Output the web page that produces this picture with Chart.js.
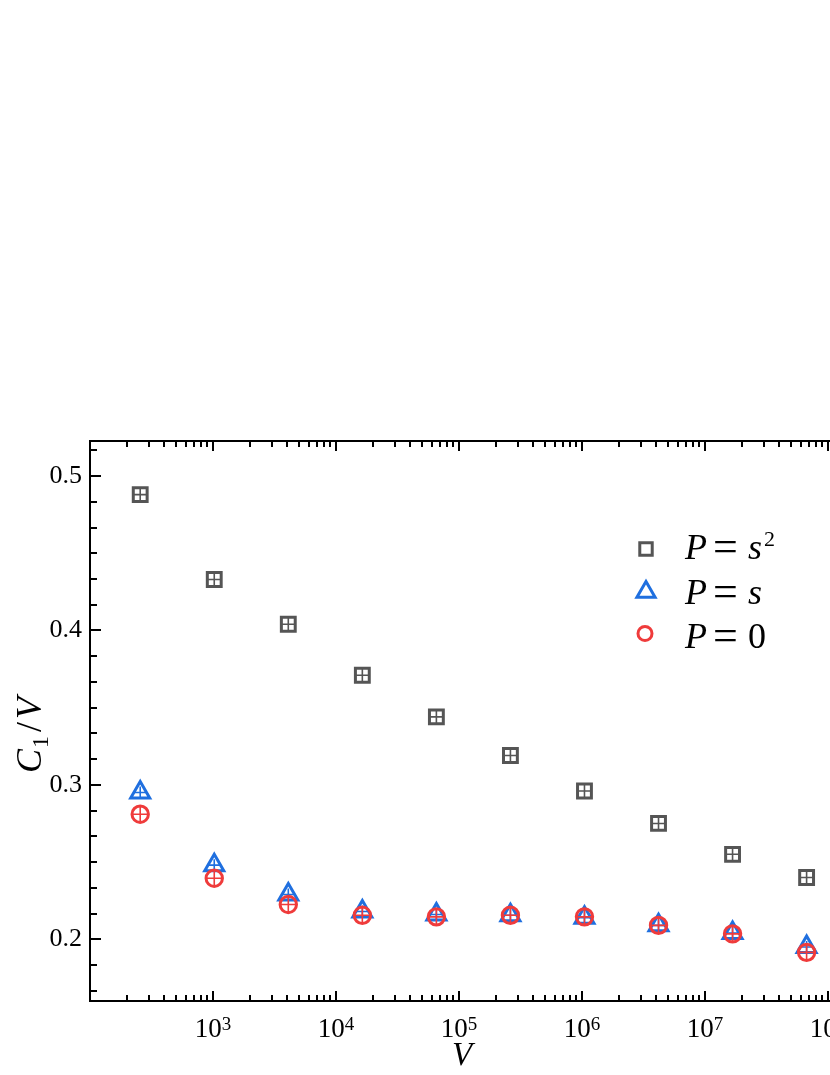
<!DOCTYPE html>
<html>
<head>
<meta charset="utf-8">
<script src="https://cdn.jsdelivr.net/npm/chart.js@4.4.0/dist/chart.umd.min.js"></script>
<style>
  html, body { margin: 0; padding: 0; background: #fff; overflow: hidden; }
  #wrap { width: 830px; height: 1075px; overflow: hidden; position: relative; }
  #c { position: absolute; left: 0; top: 0; }
</style>
</head>
<body>
<div id="wrap"><canvas id="c" width="850" height="1075"></canvas></div>
<script>
// system volume V = 4^4 ... 4^13
const volumes = [256, 1024, 4096, 16384, 65536, 262144, 1048576, 4194304, 16777216, 67108864];
// C1/V for the three choices of P
const ratioS2 = [0.488, 0.433, 0.404, 0.371, 0.344, 0.319, 0.296, 0.275, 0.255, 0.240];
const ratioS  = [0.295, 0.248, 0.229, 0.218, 0.216, 0.2155, 0.214, 0.209, 0.204, 0.195];
const ratio0  = [0.281, 0.2395, 0.2225, 0.2155, 0.2145, 0.2155, 0.2145, 0.209, 0.2035, 0.1915];
const xDecades = [3, 4, 5, 6, 7, 8];
const yMajor = [0.2, 0.3, 0.4, 0.5];

const GRAY = '#555555', BLUE = '#1f6fdf', RED = '#ef3b3b';
const SERIF = '"Liberation Serif", "Times New Roman", serif';

const pts = ys => volumes.map((v, i) => ({ x: v, y: ys[i] }));

function markerSet(label, ys, color, style, radius, order) {
  return {
    label: label, data: pts(ys), order: order,
    pointStyle: style, pointRadius: radius, pointBorderWidth: 3,
    borderColor: color, backgroundColor: 'rgba(0,0,0,0)', showLine: false
  };
}
function barSet(ys, color, radius, order) {
  return {
    label: '', data: pts(ys), order: order,
    pointStyle: 'cross', pointRadius: radius, pointBorderWidth: 1.6,
    borderColor: color, backgroundColor: color, showLine: false
  };
}

// inward ticks, frame, superscript labels, titles and legend
const decor = {
  id: 'decor',
  afterDraw(chart) {
    const ctx = chart.ctx, a = chart.chartArea;
    const xs = chart.scales.x, ys = chart.scales.y;
    ctx.save();
    ctx.strokeStyle = '#000';
    ctx.lineWidth = 2;
    ctx.beginPath();
    ctx.moveTo(a.left, a.top); ctx.lineTo(a.right, a.top); ctx.lineTo(a.right, a.bottom);
    ctx.stroke();

    // x ticks (log), bottom and top
    for (let d = 2; d <= 8; d++) {
      for (let m = 1; m <= 9; m++) {
        const v = m * Math.pow(10, d);
        if (v < xs.min || v > xs.max) continue;
        const px = Math.round(xs.getPixelForValue(v));
        const len = m === 1 ? 10 : 6;
        ctx.beginPath();
        ctx.moveTo(px, a.bottom); ctx.lineTo(px, a.bottom - len);
        ctx.moveTo(px, a.top); ctx.lineTo(px, a.top + len);
        ctx.stroke();
      }
    }
    // y ticks, 5 minor between majors
    const step = 0.1 / 6;
    for (let k = Math.ceil(ys.min / step - 1e-6); k * step <= ys.max + 1e-9; k++) {
      const py = Math.round(ys.getPixelForValue(k * step));
      const len = k % 6 === 0 ? 11 : 7;
      ctx.beginPath();
      ctx.moveTo(a.left, py); ctx.lineTo(a.left + len, py);
      ctx.stroke();
    }

    // x tick labels 10^n
    ctx.fillStyle = '#000';
    ctx.textBaseline = 'alphabetic';
    ctx.textAlign = 'left';
    xDecades.forEach(n => {
      const px = xs.getPixelForValue(Math.pow(10, n));
      ctx.font = '27px ' + SERIF;
      const w1 = ctx.measureText('10').width;
      ctx.font = '19px ' + SERIF;
      const w2 = ctx.measureText(String(n)).width;
      const x0 = px - (w1 + w2) / 2;
      ctx.font = '27px ' + SERIF;
      ctx.fillText('10', x0, 1037);
      ctx.font = '19px ' + SERIF;
      ctx.fillText(String(n), x0 + w1, 1030);
    });

    // x title
    ctx.font = 'italic 33px ' + SERIF;
    ctx.textAlign = 'center';
    ctx.fillText('V', 462, 1065);

    // y title C_1/V
    ctx.save();
    ctx.translate(41, 735);
    ctx.rotate(-Math.PI / 2);
    ctx.textAlign = 'left';
    const parts = [
      ['C', 'italic 36px ', 0, 1], ['1', '24px ', 7, 4], ['/', '36px ', 0, 3], ['V', 'italic 36px ', 0, 0]
    ];
    let total = 0;
    parts.forEach(p => { ctx.font = p[1] + SERIF; total += ctx.measureText(p[0]).width + p[3]; });
    let cx = -total / 2;
    parts.forEach(p => {
      ctx.font = p[1] + SERIF;
      ctx.fillText(p[0], cx, p[2]);
      cx += ctx.measureText(p[0]).width + p[3];
    });
    ctx.restore();

    // legend
    const rows = [
      { style: 'rect', r: 8.8, color: GRAY, mx: 646, my: 549, base: 559, tail: 's', sup: '2', italic: true },
      { style: 'triangle', r: 10.5, color: BLUE, mx: 646, my: 592, base: 604, tail: 's', sup: '', italic: true },
      { style: 'circle', r: 7, color: RED, mx: 645, my: 633.5, base: 648, tail: '0', sup: '', italic: false }
    ];
    rows.forEach(row => {
      ctx.strokeStyle = row.color;
      ctx.fillStyle = 'rgba(0,0,0,0)';
      ctx.lineWidth = 3;
      Chart.helpers.drawPoint(ctx, { pointStyle: row.style, radius: row.r, rotation: 0, borderWidth: 3 }, row.mx, row.my);
      ctx.fillStyle = '#000';
      ctx.textAlign = 'left';
      ctx.font = 'italic 36px ' + SERIF;
      ctx.fillText('P', 685, row.base);
      ctx.font = '44px ' + SERIF;
      ctx.fillText('=', 713, row.base + 2);
      ctx.font = (row.italic ? 'italic ' : '') + '36px ' + SERIF;
      ctx.fillText(row.tail, 748, row.base);
      if (row.sup) {
        ctx.font = '22px ' + SERIF;
        ctx.fillText(row.sup, 764, row.base - 13);
      }
    });
    ctx.restore();
  }
};

new Chart(document.getElementById('c'), {
  type: 'scatter',
  data: {
    datasets: [
      markerSet('P = 0', ratio0, RED, 'circle', 8.2, 0),
      barSet(ratio0, RED, 7.5, 1),
      markerSet('P = s', ratioS, BLUE, 'triangle', 11, 2),
      barSet(ratioS, BLUE, 6, 3),
      markerSet('P = s^2', ratioS2, GRAY, 'rect', 9.8, 4),
      barSet(ratioS2, GRAY, 6.9, 5)
    ]
  },
  options: {
    responsive: false,
    animation: false,
    layout: { padding: { top: 441, right: 17, left: 0, bottom: 0 } },
    plugins: { legend: { display: false }, tooltip: { enabled: false } },
    scales: {
      x: {
        type: 'logarithmic', min: 100, max: 1.1e8,
        grid: { display: false, drawTicks: false },
        ticks: { display: false },
        border: { color: '#000', width: 2 },
        afterFit(s) { s.height = 74; }
      },
      y: {
        min: 0.16, max: 0.5227,
        grid: { display: false, drawTicks: false },
        border: { color: '#000', width: 2 },
        afterBuildTicks(s) { s.ticks = yMajor.map(v => ({ value: v })); },
        ticks: {
          color: '#000', padding: 8,
          font: { family: SERIF, size: 26 },
          callback: v => Number(v).toFixed(1)
        },
        afterFit(s) { s.width = 90; }
      }
    }
  },
  plugins: [decor]
});
</script>
</body>
</html>
